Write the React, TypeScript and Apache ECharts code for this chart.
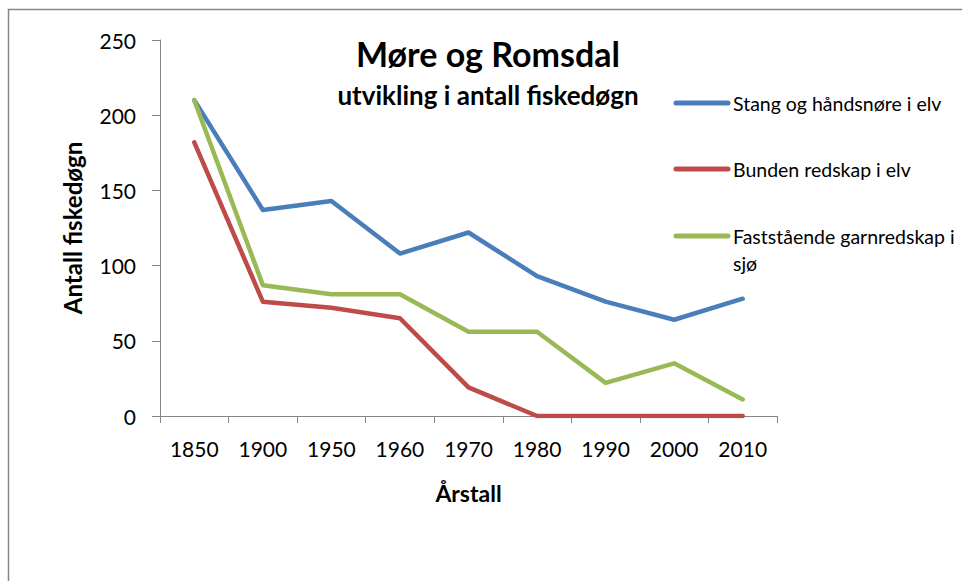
import React, { useEffect, useRef } from "react";
import * as echarts from "echarts";

const categories = ["1850", "1900", "1950", "1960", "1970", "1980", "1990", "2000", "2010"];
const stangValues = [210, 137, 143, 108, 122, 93, 76, 64, 78];
const bundenValues = [182, 76, 72, 65, 19, 0, 0, 0, 0];
const faststaendeValues = [210, 87, 81, 81, 56, 56, 22, 35, 11];
const seriesNames = ["Stang og håndsnøre i elv", "Bunden redskap i elv", "Faststående garnredskap i sjø"];
const legendLabels = ["Stang og håndsnøre i elv", "Bunden redskap i elv", "Faststående garnredskap i\nsjø"];
const seriesColors = ["#4a7ebb", "#be4b48", "#98b954"];
const yTicks = { min: 0, max: 250, interval: 50 };
const titleText = "Møre og Romsdal";
const subtitleText = "utvikling i antall fiskedøgn";
const yAxisTitle = "Antall fiskedøgn";
const xAxisTitle = "Årstall";

const FONT = "Lato, 'Liberation Sans', sans-serif";

export default function App() {
  const ref = useRef<HTMLDivElement>(null);
  useEffect(() => {
    if (!ref.current) return;
    const chart = echarts.init(ref.current, null, { renderer: "svg" });
    const values = [stangValues, bundenValues, faststaendeValues];
    const legendTops = [103, 169, 236];
    chart.setOption({
      animation: false,
      backgroundColor: "#ffffff",
      textStyle: { fontFamily: FONT },
      grid: { left: 160, right: 185, top: 40, bottom: 165 },
      xAxis: {
        type: "category",
        data: categories,
        boundaryGap: true,
        axisLine: { lineStyle: { color: "#868686", width: 1 } },
        axisTick: { show: true, length: 7, lineStyle: { color: "#868686" } },
        axisLabel: { color: "#000", fontSize: 21, fontFamily: FONT, margin: 22 },
        name: xAxisTitle,
        nameLocation: "middle",
        nameGap: 65,
        nameTextStyle: { color: "#000", fontSize: 23, fontWeight: "bold", fontFamily: FONT },
      },
      yAxis: {
        type: "value",
        min: yTicks.min,
        max: yTicks.max,
        interval: yTicks.interval,
        splitLine: { show: false },
        axisLine: { show: true, lineStyle: { color: "#868686", width: 1 } },
        axisTick: { show: true, length: 8, lineStyle: { color: "#868686" } },
        axisLabel: { color: "#000", fontSize: 21, fontFamily: FONT, margin: 24 },
        name: yAxisTitle,
        nameLocation: "middle",
        nameGap: 76,
        nameRotate: 90,
        nameTextStyle: { color: "#000", fontSize: 24, fontWeight: "bold", fontFamily: FONT },
      },
      series: values.map((d, i) => ({
        type: "line",
        name: seriesNames[i],
        data: d,
        symbol: "none",
        lineStyle: { color: seriesColors[i], width: 4.5, cap: "round", join: "round" },
        itemStyle: { color: seriesColors[i] },
      })),
      graphic: [
        {
          type: "rect",
          shape: { x: 8.5, y: 9.5, width: 1200, height: 1200 },
          style: { fill: "none", stroke: "#868686", lineWidth: 1.5 },
          silent: true,
        },
        {
          type: "text",
          x: 488,
          y: 53,
          style: { text: titleText, font: `bold 34px ${FONT}`, fill: "#000", textAlign: "center", textVerticalAlign: "middle" },
        },
        {
          type: "text",
          x: 488,
          y: 95,
          style: { text: subtitleText, font: `bold 26px ${FONT}`, fill: "#000", textAlign: "center", textVerticalAlign: "middle" },
        },
        ...legendLabels.flatMap((label, i) => [
          {
            type: "line",
            shape: { x1: 676, y1: legendTops[i], x2: 728, y2: legendTops[i] },
            style: { stroke: seriesColors[i], lineWidth: 5, lineCap: "round" },
          },
          {
            type: "text",
            x: 733,
            y: legendTops[i] - 13,
            style: { text: label, font: `19.5px ${FONT}`, fill: "#000", textAlign: "left", textVerticalAlign: "top", lineHeight: 27 },
          },
        ]),
      ],
    });
    return () => chart.dispose();
  }, []);
  return <div ref={ref} style={{ position: "fixed", left: 0, top: 0, width: 962, height: 581 }} />;
}
